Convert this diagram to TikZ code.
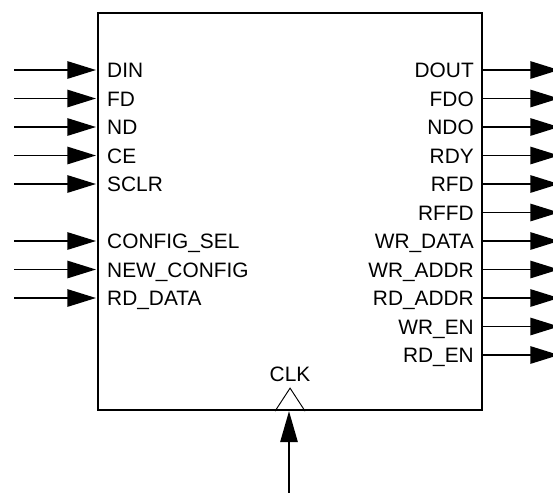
\documentclass[tikz,border=0pt]{standalone}
\usepackage{fontspec}
\setmainfont{Liberation Sans}
\usetikzlibrary{arrows.meta, calc}

\begin{document}
\begin{tikzpicture}[x=0.03cm,y=-0.03cm,
    portlabel/.style={font=\fontsize{17.8}{21}\selectfont, inner sep=0pt},
    sig/.style={line width=1.6pt, -{Triangle[length=0.86cm, width=0.52cm]}}]
  \useasboundingbox (0,0) rectangle (553,492);
  \node[draw, line width=1.8pt, inner sep=0pt, anchor=north west,
        minimum width=11.52cm, minimum height=11.91cm] (chip) at (97,12) {};
  % inputs
  \foreach \r/\t in {1/DIN,2/FD,3/ND,4/CE,5/SCLR,7/CONFIG\_SEL,8/NEW\_CONFIG,9/RD\_DATA} {
    \coordinate (src\r) at (14,{70+28.5*(\r-1)});
    \node[portlabel, anchor=base west] (in\r) at (107,{77.5+28.5*(\r-1)}) {\t};
    \draw[sig] (src\r) -- ($(src\r -| chip.west)+(-1,0)$);
  }
  % outputs
  \foreach \r/\t in {1/DOUT,2/FDO,3/NDO,4/RDY,5/RFD,6/RFFD,7/WR\_DATA,8/WR\_ADDR,
                     9/RD\_ADDR,10/WR\_EN,11/RD\_EN} {
    \coordinate (dst\r) at (559,{70+28.5*(\r-1)});
    \node[portlabel, anchor=base east] (out\r) at (474,{77.5+28.5*(\r-1)}) {\t};
    \draw[sig] (dst\r -| chip.east) -- (dst\r);
  }
  % clock
  \coordinate (clksrc) at (289,495);
  \node[portlabel, anchor=base] (clk) at (290,381.5) {CLK};
  \draw[line width=0.8pt] ($(chip.south)+(-15,0)$) -- ($(chip.south)+(0,-23)$)
    -- ($(chip.south)+(15,0)$);
  \draw[sig, -{Triangle[length=0.93cm, width=0.52cm]}] (clksrc) -- (clksrc |- chip.south);
\end{tikzpicture}
\end{document}
